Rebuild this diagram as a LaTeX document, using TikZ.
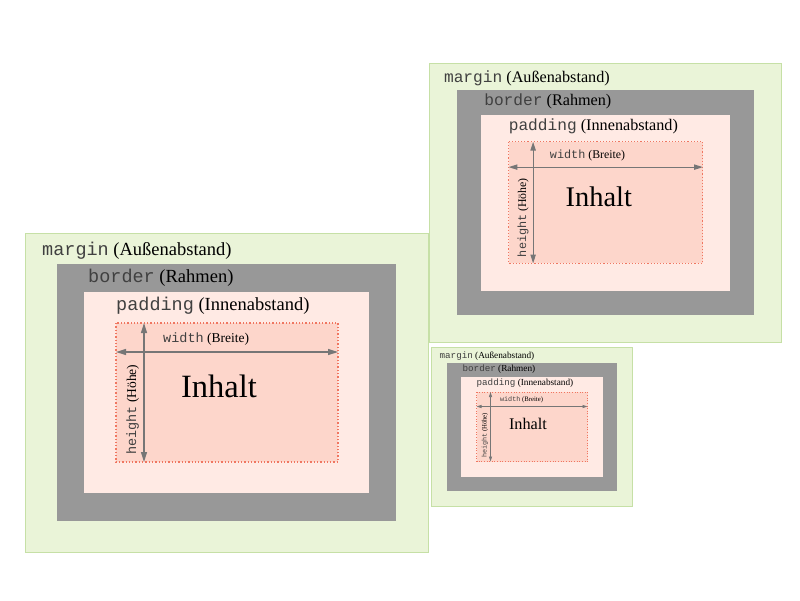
\documentclass[tikz,border=0pt]{standalone}
\usepackage{fontspec}
\setmainfont{Liberation Serif}
\setmonofont{Liberation Mono}
\usepackage{tikz}
\usetikzlibrary{arrows.meta}
\definecolor{MarginGreen}{RGB}{234, 244, 216}
\definecolor{MarginLine}{RGB}{198, 224, 166}
\definecolor{BorderGray}{RGB}{152, 152, 152}
\definecolor{PaddingRose}{RGB}{255, 234, 228}
\definecolor{ContentSalmon}{RGB}{253, 214, 203}
\definecolor{ContentDots}{RGB}{240, 118, 96}
\definecolor{ArrowGray}{RGB}{118, 118, 118}
\tikzset{
  lbl/.style={anchor=base west, inner sep=0pt, text=black,
              font=\fontsize{18.5}{20}\selectfont},
  dimlbl/.style={anchor=base west, inner sep=0pt, text=black,
                 font=\fontsize{13.5}{15}\selectfont},
  biglbl/.style={anchor=base, inner sep=0pt, text=black,
                 font=\fontsize{32.5}{36}\selectfont},
  dimarr/.style={{Triangle[length=10pt, width=6pt, scale=#1]}-{Triangle[length=10pt, width=6pt, scale=#1]},
                 line width=1.4pt*#1, color=ArrowGray},
  marginbox/.style={fill=MarginGreen, draw=MarginLine, line width=1pt*#1},
  contentbox/.style={fill=ContentSalmon, draw=ContentDots, dotted, line width=1.3pt*#1},
}
% #1 name, #2/#3 top left corner, #4 scale
\newcommand{\boxmodel}[4]{%
  \begin{scope}[shift={(#2,#3)}, scale=#4, transform shape]
    \path[marginbox=#4] (0,0) rectangle (403,-319);
    \fill[BorderGray] (32,-31) rectangle (371,-288);
    \fill[PaddingRose] (59,-59) rectangle (344,-260);
    \path[contentbox=#4] (91,-90) rectangle (313,-229);
    \coordinate (#1-wl) at (91,-119);
    \coordinate (#1-wr) at (313,-119);
    \coordinate (#1-ht) at (119,-90);
    \coordinate (#1-hb) at (119,-229);
    \node[lbl] (#1-margin) at (17,-22) {{\color{black!75}\texttt{margin}} (Außenabstand)};
    \node[lbl] (#1-border) at (63,-49) {{\color{black!75}\texttt{border}} (Rahmen)};
    \node[lbl] (#1-padding) at (91,-77) {{\color{black!75}\texttt{padding}} (Innenabstand)};
    \node[dimlbl] (#1-width) at (138,-109) {{\color{black!75}\texttt{width}} (Breite)};
    \node[dimlbl, rotate=90] (#1-height) at (111,-222) {{\color{black!75}\texttt{height}} (Höhe)};
    \node[biglbl] (#1-inhalt) at (194,-164) {Inhalt};
    \draw[dimarr=#4] (#1-wl) -- (#1-wr);
    \draw[dimarr=#4] (#1-ht) -- (#1-hb);
  \end{scope}}

\begin{document}
\begin{tikzpicture}[x=1pt, y=1pt]
  \useasboundingbox (0,0) rectangle (800,-600);
  \boxmodel{big}{25}{-233}{1}
  \boxmodel{mid}{429}{-63}{0.875}
  \boxmodel{small}{431}{-347}{0.5}
\end{tikzpicture}
\end{document}
